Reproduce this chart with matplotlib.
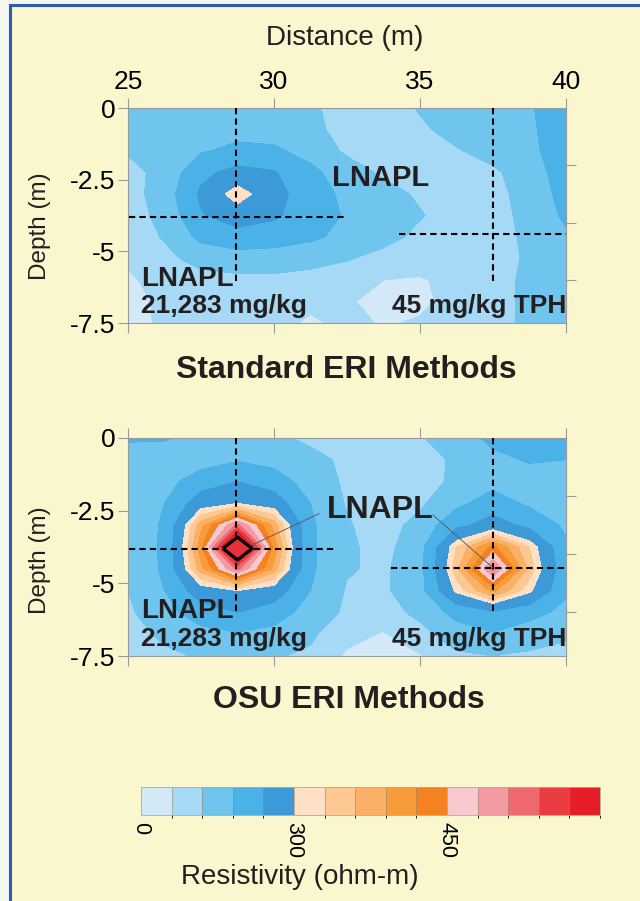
import matplotlib.pyplot as plt
from matplotlib.colors import ListedColormap, BoundaryNorm
from matplotlib.cm import ScalarMappable
from matplotlib.patches import Rectangle

plt.rcParams['font.family'] = ['Liberation Sans', 'DejaVu Sans']

# grid nodes of the resistivity sections
distance = [25, 26.25, 27.5, 28.75, 30, 31.25, 32.5, 33.75, 35, 36.25, 37.5, 38.75, 40]
depth = [0, -0.75, -1.5, -2.25, -3, -3.75, -4.5, -5.25, -6, -6.75, -7.5]

# resistivity (ohm-m), one row per depth
standard_eri = [
    [150, 150, 150, 150, 150, 130, 95, 90, 125, 150, 160, 175, 210],
    [150, 150, 155, 160, 155, 135, 100, 90, 110, 140, 155, 170, 215],
    [125, 150, 175, 195, 190, 160, 110, 90, 95, 115, 140, 165, 215],
    [100, 140, 225, 260, 245, 195, 150, 110, 90, 100, 110, 150, 210],
    [95, 150, 250, 325, 260, 210, 165, 145, 110, 90, 100, 145, 200],
    [90, 140, 235, 270, 250, 205, 175, 160, 125, 90, 95, 140, 190],
    [85, 125, 195, 215, 205, 190, 165, 140, 105, 85, 90, 135, 170],
    [70, 105, 140, 155, 155, 145, 125, 100, 85, 80, 90, 130, 160],
    [50, 85, 100, 105, 105, 95, 80, 60, 55, 75, 95, 135, 150],
    [35, 75, 95, 95, 90, 75, 65, 45, 50, 75, 95, 135, 150],
    [30, 75, 95, 90, 80, 50, 75, 55, 65, 80, 95, 135, 145],
]
osu_eri = [
    [185, 185, 160, 135, 130, 110, 90, 90, 115, 150, 195, 210, 200],
    [160, 150, 155, 175, 160, 135, 110, 85, 95, 130, 165, 185, 180],
    [130, 160, 210, 240, 210, 155, 110, 85, 90, 135, 160, 155, 150],
    [120, 180, 275, 300, 275, 180, 115, 90, 110, 165, 210, 170, 150],
    [130, 190, 380, 520, 380, 190, 125, 95, 140, 225, 265, 225, 170],
    [140, 190, 410, 700, 410, 190, 130, 100, 160, 330, 430, 330, 190],
    [130, 190, 380, 520, 380, 190, 125, 110, 160, 350, 520, 350, 200],
    [120, 180, 275, 300, 275, 180, 115, 110, 160, 310, 400, 310, 190],
    [110, 160, 210, 240, 210, 155, 110, 95, 135, 200, 230, 200, 165],
    [100, 130, 160, 175, 160, 130, 80, 55, 100, 150, 175, 150, 130],
    [95, 110, 125, 130, 125, 110, 50, 40, 55, 110, 120, 110, 100],
]

levels = [0, 60, 120, 180, 240, 300, 330, 360, 390, 420, 450, 480, 510, 540, 570, 720]
colors = ['#d3e9f8', '#a6d9f5', '#70c5ee', '#4bb2e8', '#3d9ad8',
          '#fde0c6', '#fdc892', '#fbb068', '#f89c3a', '#f48220',
          '#f9c9d0', '#f49aa2', '#ee6a70', '#ea3c42', '#e61e28']
cbar_ticks = [0, 300, 450]

# boreholes and sampled depths
borehole_x = [28.7, 37.5]
std_sample_depth = [-3.79, -4.39]
osu_sample_depth = [-3.83, -4.46]
lnapl_x, lnapl_depth = 28.75, -3.8

cmap = ListedColormap(colors)
norm = BoundaryNorm(levels, cmap.N)

fig = plt.figure(figsize=(6.4, 9.01), dpi=100, facecolor='#f5f8ee')
fig.patches.append(Rectangle((0.0164, -0.05), 1.2, 1.0445, transform=fig.transFigure,
                             facecolor='#faf7cf', edgecolor='#2d5db2', lw=2.2, zorder=-5))

grey = '#9a9a9a'


def panel(ax, grid, sample_depth, v_end, h_spans, show_x):
    ax.contourf(distance, depth, grid, levels=levels, cmap=cmap, norm=norm)
    ax.set_facecolor('none')
    ax.set_xlim(25, 40)
    ax.set_ylim(-7.5, 0)
    ax.set_xticks([25, 30, 35, 40])
    ax.set_yticks([0, -2.5, -5, -7.5])
    ax.set_yticklabels(['0', '-2.5', '-5', '-7.5'])
    ax.xaxis.tick_top()
    ax.tick_params(axis='x', which='both', top=True, bottom=True, labeltop=show_x,
                   labelbottom=False, direction='out', length=7, color=grey,
                   labelsize=19, pad=3)
    ax.tick_params(axis='y', direction='out', length=7, color=grey, labelsize=19, pad=2)
    for s in ax.spines.values():
        s.set_color(grey)
        s.set_linewidth(0.8)
    sec = ax.secondary_yaxis('right')
    sec.set_yticks([-2, -4, -6])
    sec.set_yticklabels([])
    sec.tick_params(direction='out', length=7, color=grey)
    sec.spines['right'].set_color(grey)

    dash = dict(color='black', lw=1.5, ls=(0, (3, 2)), zorder=4)
    for bx, sd, (h0, h1), ve in zip(borehole_x, sample_depth, h_spans, v_end):
        ax.plot([bx, bx], [0, ve], **dash)
        ax.plot([h0, h1], [sd, sd], **dash)

    bold = dict(fontweight='bold', color='#231f20', zorder=6)
    ax.text(25.45, -5.95, 'LNAPL', fontsize=20, va='center', ha='left', **bold)
    ax.text(25.45, -6.92, '21,283 mg/kg', fontsize=19, va='center', ha='left', **bold)
    ax.text(34.05, -6.92, '45 mg/kg TPH', fontsize=19, va='center', ha='left',
            clip_on=False, **bold)


ax1 = fig.add_axes([0.2, 0.6415, 0.684, 0.2386])
panel(ax1, standard_eri, std_sample_depth, [-6.15, -6.08],
      [(25.05, 32.5), (34.3, 40)], True)
ax1.text(33.66, -2.45, 'LNAPL', fontsize=21, fontweight='bold', color='#231f20',
         ha='center', va='center', zorder=6)

ax2 = fig.add_axes([0.2, 0.2719, 0.684, 0.242])
panel(ax2, osu_eri, osu_sample_depth, [-6.0, -6.0],
      [(25.05, 32.1), (34.0, 40)], False)
ax2.text(33.64, -2.48, 'LNAPL', fontsize=23, fontweight='bold', color='#231f20',
         ha='center', va='center', zorder=6)
# leader lines from the label to both anomalies
ax2.plot([31.55, lnapl_x + 0.25], [-2.6, lnapl_depth], color='#555555', lw=0.6, zorder=5)
ax2.plot([35.45, borehole_x[1]], [-2.65, osu_sample_depth[1]], color='#555555', lw=0.6, zorder=5)
ax2.plot([lnapl_x], [lnapl_depth], marker=[(-1, 0), (0, 0.78), (1, 0), (0, -0.78), (-1, 0)],
         ms=21, mfc='#e8303a', mec='black', mew=2.4, zorder=7)

fig.text(0.539, 0.958, 'Distance (m)', fontsize=20, ha='center', va='center', color='#231f20')
fig.text(0.0625, 0.749, 'Depth (m)', fontsize=17.5, rotation=90, ha='center', va='center',
         color='#231f20')
fig.text(0.0625, 0.378, 'Depth (m)', fontsize=17.5, rotation=90, ha='center', va='center',
         color='#231f20')
fig.text(0.541, 0.589, 'Standard ERI Methods', fontsize=23, fontweight='bold',
         ha='center', va='center', color='#231f20')
fig.text(0.545, 0.223, 'OSU ERI Methods', fontsize=23, fontweight='bold',
         ha='center', va='center', color='#231f20')

cax = fig.add_axes([0.2203, 0.0954, 0.717, 0.031])
cb = fig.colorbar(ScalarMappable(norm=norm, cmap=cmap), cax=cax, orientation='horizontal',
                  spacing='uniform', drawedges=True, ticks=cbar_ticks)
cb.ax.set_xticklabels([str(t) for t in cbar_ticks], rotation=-90, fontsize=15.5)
cb.ax.tick_params(length=0, pad=5)
cb.outline.set_edgecolor('#b8a888')
cb.outline.set_linewidth(0.6)
cb.dividers.set_color('#9a8a70')
cb.dividers.set_linewidth(0.4)
fig.text(0.283, 0.0266, 'Resistivity (ohm-m)', fontsize=20, ha='left', va='center',
         color='#231f20')

fig.savefig('out.png', dpi=100, facecolor=fig.get_facecolor())
